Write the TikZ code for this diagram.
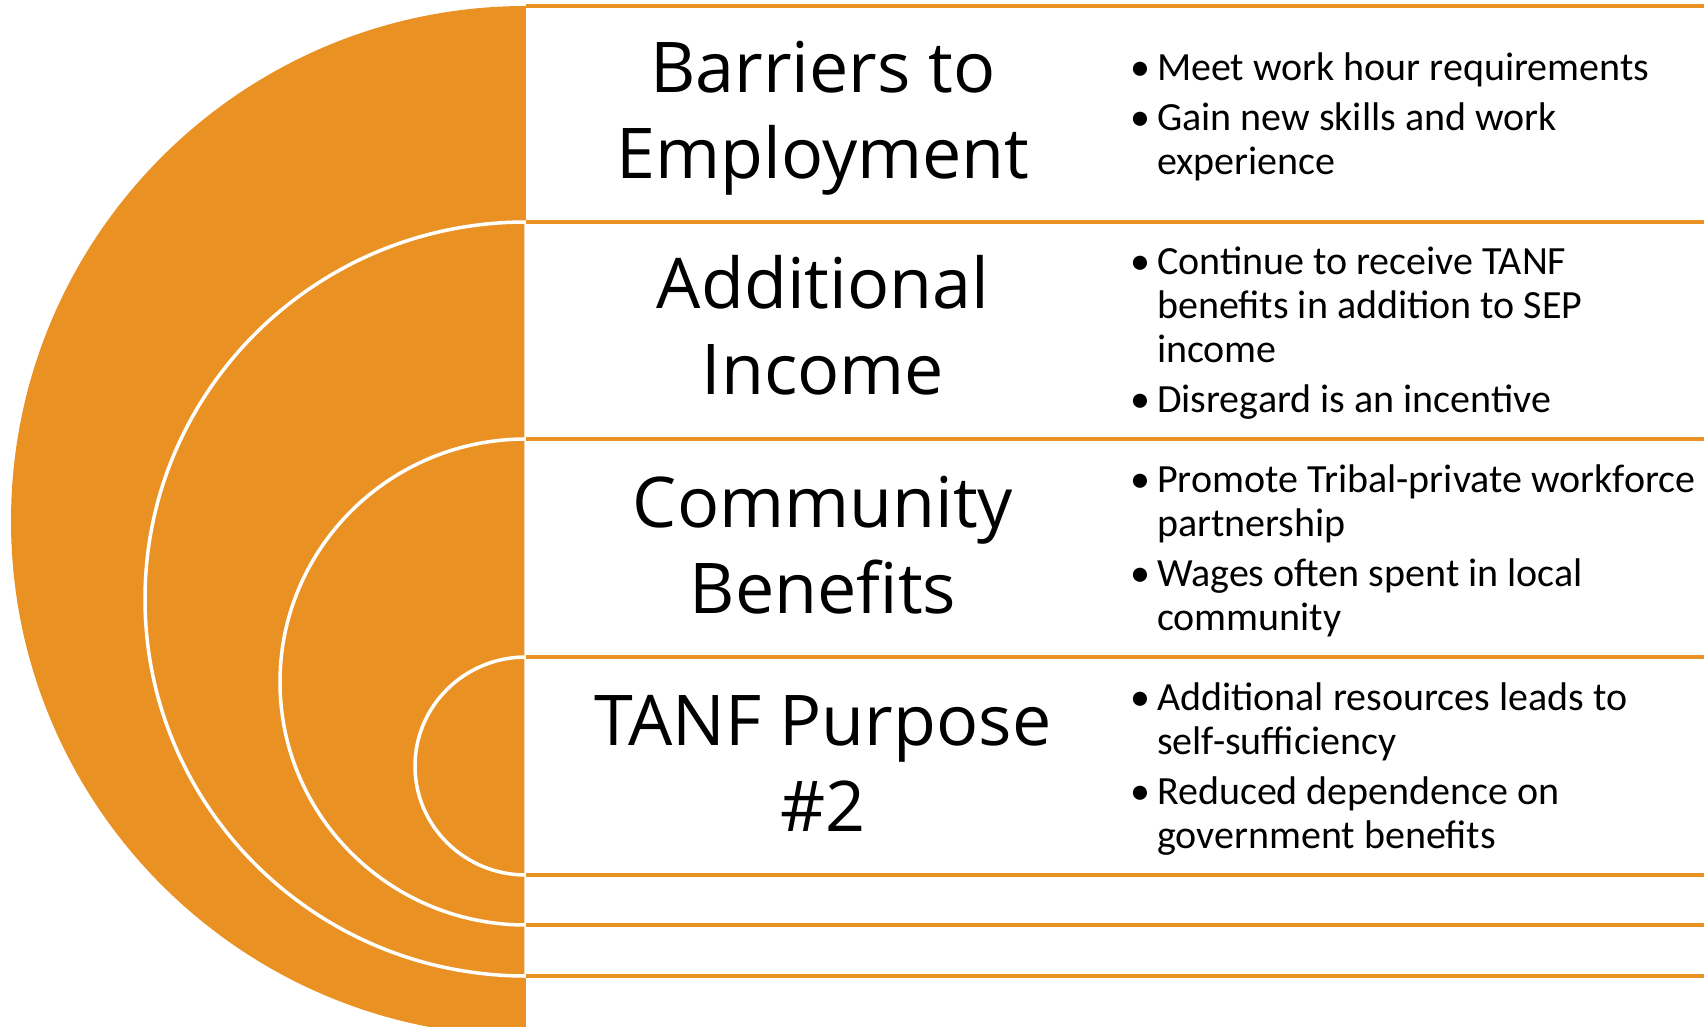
\documentclass[tikz,border=0pt]{standalone}
\usepackage{fontspec}
\setmainfont{Carlito}
\newfontfamily\headfont{Open Sans}
\usetikzlibrary{positioning}

\definecolor{tanforange}{RGB}{234,145,36}

\tikzset{
    ring/.style = {
        fill=tanforange, 
        draw=white, 
        line width=3.5pt
    },
    rowline/.style = {
        draw=tanforange, 
        line width=4pt
    },
    heading/.style = {
        align=center, 
        inner sep=0pt, 
        font=\headfont\fontsize{70}{86}\selectfont
    },
    points/.style = {
        anchor=west, 
        align=left, 
        inner sep=0pt, 
        font=\fontsize{40}{44}\selectfont
    }
}

\newcommand{\bul}{\textbullet\kern7pt}

\begin{document}
\begin{tikzpicture}[x=1pt, y=-1pt, node distance=217.3pt]
\useasboundingbox (0,0) rectangle (1704,1027);

% outer band
\fill[ring, draw=none] (526,6) arc[start angle=270, end angle=90, x radius=515, y radius=515] -- cycle;
\fill[white] (526,6) rectangle (1720,1040);
\draw[rowline] (526,6) -- (1720,6);

% second band
\draw[ring] (526,222) arc[start angle=270, end angle=90, x radius=381, y radius=377] -- cycle;
\fill[white] (527,222) rectangle (1720,976);
\draw[rowline] (526,222) -- (1720,222) (526,976) -- (1720,976);

% third band
\draw[ring] (526,439) arc[start angle=270, end angle=90, x radius=246, y radius=243] -- cycle;
\fill[white] (527,439) rectangle (1720,925);
\draw[rowline] (526,439) -- (1720,439) (526,925) -- (1720,925);

% inner band
\draw[ring] (526,657) arc[start angle=270, end angle=90, x radius=111, y radius=109] -- cycle;
\fill[white] (527,657) rectangle (1720,875);
\draw[rowline] (526,657) -- (1720,657) (526,875) -- (1720,875);

% headings
\node (barriers) [heading] at (823,118) {Barriers to\\Employment};
\node (income) [heading, below of=barriers, yshift=9.6pt] {Additional\\Income};
\node (community) [heading, below of=income, yshift=-2.5pt] {Community\\Benefits};
\node (purpose) [heading, below of=community, yshift=-1pt] {TANF Purpose\\\#2};

% bullet points
\node (barrierspts) [points] at (1130,119) {\begin{tabular}{@{}l@{}l@{}}
\bul & Meet work hour requirements\\[6pt]
\bul & Gain new skills and work\\
 & experience
\end{tabular}};
\node (incomepts) [points] at (1130,335) {\begin{tabular}{@{}l@{}l@{}}
\bul & Continue to receive TANF\\
 & benefits in addition to SEP\\
 & income\\[6pt]
\bul & Disregard is an incentive
\end{tabular}};
\node (communitypts) [points] at (1130,553) {\begin{tabular}{@{}l@{}l@{}}
\bul & Promote Tribal-private workforce\\
 & partnership\\[6pt]
\bul & Wages often spent in local\\
 & community
\end{tabular}};
\node (purposepts) [points] at (1130,771) {\begin{tabular}{@{}l@{}l@{}}
\bul & Additional resources leads to\\
 & self-sufficiency\\[6pt]
\bul & Reduced dependence on\\
 & government benefits
\end{tabular}};

\end{tikzpicture}
\end{document}
